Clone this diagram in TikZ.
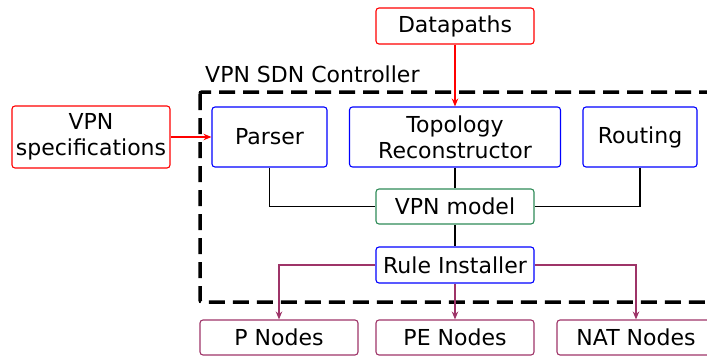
\documentclass[tikz,border=0pt]{standalone}
\usepackage{fontspec}
\setmainfont{DejaVu Sans}
\usetikzlibrary{arrows.meta}
\definecolor{boxred}{RGB}{255,0,0}
\definecolor{boxblue}{RGB}{0,0,255}
\definecolor{modelgreen}{RGB}{46,139,87}
\definecolor{plum}{RGB}{158,52,104}
\tikzset{
  box/.style={draw, line width=1.1pt, rounded corners=3pt, inner sep=0pt,
    align=center, font=\fontsize{22}{26}\selectfont},
  extbox/.style={box, draw=boxred},
  modbox/.style={box, draw=boxblue},
  nodebox/.style={box, draw=plum},
  link/.style={line width=1.1pt},
  tip/.style={-{Stealth[length=8pt,width=6.5pt]}},
}
\begin{document}
\begin{tikzpicture}[x=1pt,y=-1pt]
\useasboundingbox (0,0) rectangle (707,356);
\clip (0,0) rectangle (707,356);

% controller frame
\draw[line width=3.5pt, dash pattern=on 16pt off 8pt, rounded corners=2pt]
  (200,92) rectangle (730,302);
\node[anchor=base west, inner sep=0pt, font=\fontsize{22}{26}\selectfont] (title) at (205,82) {VPN SDN Controller};

% external inputs
\node[extbox, minimum width=158pt, minimum height=36pt] (data) at (455,26) {Datapaths};
\node[extbox, minimum width=158pt, minimum height=62pt] (spec) at (91,137) {VPN\\specifications};

% controller modules
\node[modbox, minimum width=115pt, minimum height=60pt] (parser) at (269.5,137) {Parser};
\node[modbox, minimum width=211pt, minimum height=60pt] (topo) at (455,137) {Topology\\Reconstructor};
\node[modbox, minimum width=114pt, minimum height=60pt] (routing) at (640,137) {Routing};
\node[box, draw=modelgreen, minimum width=158pt, minimum height=35pt] (model) at (455,206.5) {VPN model};
\node[modbox, minimum width=158pt, minimum height=36pt] (rule) at (455,265) {Rule Installer};

% network nodes
\node[nodebox, minimum width=158pt, minimum height=35pt] (pn) at (279,337.5) {P Nodes};
\node[nodebox, minimum width=158pt, minimum height=35pt] (pe) at (455,337.5) {PE Nodes};
\node[nodebox, minimum width=158pt, minimum height=35pt] (nat) at (636,337.5) {NAT Nodes};

% inputs
\draw[link, boxred, tip] (data.south) -- (data.south |- topo.north);
\draw[link, boxred, tip] (spec.east) -- (parser.west);

% modules to model
\draw[link] (parser.south) |- (model.west);
\draw[link] (routing.south) |- (model.east);
\draw[link] (topo.south) -- (model.north);
\draw[link] (model.south) -- (rule.north);

% rule installation
\draw[link, plum, tip] (rule.west) -| (pn.north);
\draw[link, plum, tip] (rule.south) -- (pe.north);
\draw[link, plum, tip] (rule.east) -| (nat.north);
\end{tikzpicture}
\end{document}
